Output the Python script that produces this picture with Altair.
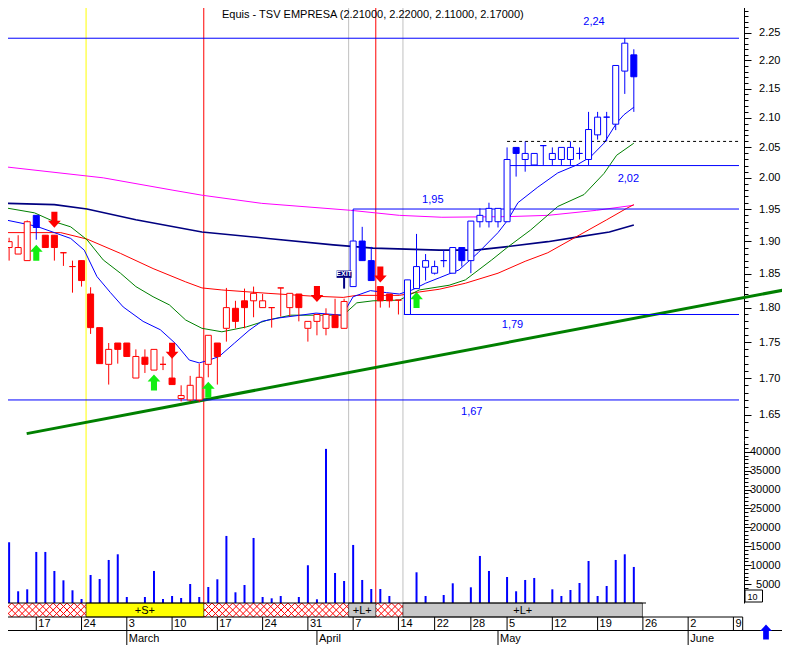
import altair as alt
import numpy as np
import pandas as pd

# ---------------- values ----------------
# trading-day number, 0 = Mon 17 Feb 2003 (holidays skipped)
DAY = list(range(-3, 67))
OPEN = [1.890, 1.880, 1.870, 1.940, 1.909, 1.909, 1.882, 1.861, 1.870, 1.820,
        1.771, 1.719, 1.749, 1.749, 1.700, 1.729, 1.711, 1.719, 1.700, 1.672,
        1.670, 1.670, 1.719, 1.749, 1.770, 1.799, 1.810, 1.810, 1.800, 1.800,
        1.829, 1.800, 1.820, 1.770, 1.780, 1.770, 1.789, 1.770, 1.831, 1.900,
        1.870, 1.831, 1.820, 1.811, 1.790, 1.828, 1.860, 1.851, 1.870, 1.851,
        1.890, 1.870, 1.930, 1.930, 1.930, 1.930, 2.050, 2.030, 2.021, 2.053,
        2.030, 2.030, 2.030, 2.040, 2.030, 2.071, 2.101, 2.089, 2.181, 2.210]
HIGH = [1.905, 1.909, 1.932, 1.940, 1.909, 1.909, 1.882, 1.870, 1.870, 1.830,
        1.771, 1.749, 1.749, 1.749, 1.740, 1.740, 1.740, 1.730, 1.728, 1.690,
        1.703, 1.720, 1.760, 1.749, 1.829, 1.810, 1.828, 1.831, 1.820, 1.800,
        1.829, 1.821, 1.820, 1.780, 1.790, 1.799, 1.813, 1.813, 1.950, 1.922,
        1.891, 1.831, 1.820, 1.811, 1.841, 1.911, 1.880, 1.870, 1.886, 1.890,
        1.890, 1.931, 1.951, 1.960, 1.951, 2.050, 2.050, 2.060, 2.040, 2.053,
        2.050, 2.050, 2.060, 2.050, 2.110, 2.110, 2.110, 2.191, 2.240, 2.220]
LOW = [1.870, 1.880, 1.870, 1.902, 1.890, 1.870, 1.862, 1.822, 1.831, 1.762,
       1.720, 1.691, 1.720, 1.730, 1.700, 1.707, 1.711, 1.711, 1.691, 1.668,
       1.668, 1.667, 1.701, 1.691, 1.751, 1.770, 1.770, 1.786, 1.800, 1.771,
       1.787, 1.787, 1.780, 1.751, 1.760, 1.760, 1.771, 1.770, 1.831, 1.870,
       1.840, 1.800, 1.800, 1.790, 1.790, 1.828, 1.840, 1.849, 1.860, 1.851,
       1.861, 1.851, 1.921, 1.921, 1.921, 1.930, 2.002, 2.010, 2.021, 2.021,
       2.021, 2.021, 2.021, 2.030, 2.021, 2.063, 2.060, 2.079, 2.141, 2.110]
CLOSE = [1.899, 1.890, 1.930, 1.921, 1.890, 1.890, 1.882, 1.861, 1.840, 1.771,
         1.720, 1.740, 1.740, 1.730, 1.730, 1.719, 1.740, 1.719, 1.691, 1.676,
         1.690, 1.701, 1.760, 1.730, 1.800, 1.780, 1.800, 1.821, 1.810, 1.800,
         1.829, 1.821, 1.800, 1.780, 1.790, 1.790, 1.771, 1.809, 1.900, 1.870,
         1.840, 1.810, 1.810, 1.811, 1.841, 1.861, 1.870, 1.861, 1.870, 1.890,
         1.870, 1.931, 1.940, 1.951, 1.951, 2.030, 2.040, 2.040, 2.040, 2.053,
         2.040, 2.050, 2.050, 2.040, 2.080, 2.101, 2.101, 2.191, 2.231, 2.171]
VOLUME = [16060, 3100, 3620, 13500, 13500, 8470, 6000, 3360, 1060, 7410,
          6350, 11380, 12880, 1590, 0, 1590, 8470, 1060, 1850, 1320,
          5030, 1590, 4230, 6270, 17730, 2830, 4760, 17200, 1590, 1240,
          1850, 0, 1590, 9980, 980, 40750, 7940, 5820, 15350, 6090,
          3700, 3700, 1850, 0, 0, 8120, 1850, 0, 2120, 5210,
          0, 4150, 12440, 8470, 0, 6880, 3100, 6090, 6620, 0,
          3620, 1850, 3440, 5290, 11110, 1850, 4500, 11380, 12880, 9530]
BLUE_DAYS = [0, 35, 36, 37] + list(range(41, 67))

# moving averages (day, value)
MA_FAST_DAY = [-3.45, 0, 2, 3.8, 5.3, 6.7, 8.2, 9.6, 11.8, 13.7, 15.4, 16.9, 18, 19.1,
               20.2, 21.9, 23.5, 24.9, 26.8, 29.2, 30.9, 33.8, 35, 36.9, 38.7, 40.1,
               41.5, 43, 44.5, 46.7, 48.8, 51, 52.1, 53.2, 55.4, 57.6, 59.7, 61.2,
               62.7, 64.1, 64.9, 66]
MA_FAST = [1.933, 1.923, 1.913, 1.904, 1.886, 1.846, 1.822, 1.801, 1.780, 1.768,
           1.748, 1.725, 1.721, 1.725, 1.730, 1.749, 1.767, 1.780, 1.785, 1.789,
           1.792, 1.789, 1.816, 1.825, 1.822, 1.820, 1.826, 1.836, 1.844, 1.856,
           1.882, 1.913, 1.933, 1.960, 1.985, 2.008, 2.021, 2.034, 2.057, 2.091,
           2.105, 2.118]
MA_GREEN_DAY = [-3.45, -0.2, 2, 3.8, 5.6, 7.4, 9.3, 11, 12.9, 14.7, 16.5, 18.3, 20.5,
                23.2, 25.6, 28.1, 33.9, 35.4, 37.2, 40.1, 42.3, 45.6, 47.4, 50.3,
                52.1, 54.6, 57.6, 60.5, 62.7, 64.1, 66]
MA_GREEN = [1.952, 1.944, 1.930, 1.922, 1.902, 1.871, 1.851, 1.831, 1.816, 1.804,
            1.782, 1.770, 1.765, 1.772, 1.782, 1.789, 1.789, 1.807, 1.810, 1.811,
            1.826, 1.833, 1.841, 1.871, 1.891, 1.917, 1.954, 1.973, 2.007, 2.037,
            2.057]
MA_RED_DAY = [-3.45, 2.7, 5.6, 9.3, 12.9, 16.5, 18.3, 20.5, 25.6, 30.3, 33.9, 35.4,
              40.1, 42.3, 44.5, 47.4, 51, 54, 56.5, 59.7, 63, 65.2, 66]
MA_RED = [1.913, 1.913, 1.903, 1.881, 1.858, 1.838, 1.829, 1.826, 1.821, 1.817,
          1.815, 1.818, 1.818, 1.823, 1.827, 1.836, 1.851, 1.869, 1.882, 1.907,
          1.933, 1.951, 1.957]
MA_NAVY_DAY = [-3.45, 2, 5.6, 11, 18.3, 25.6, 32.8, 37.2, 44.5, 48.5, 51.8, 56.5,
               59.7, 63.3, 66]
MA_NAVY = [1.959, 1.957, 1.950, 1.933, 1.914, 1.904, 1.894, 1.889, 1.886, 1.886,
           1.891, 1.899, 1.906, 1.914, 1.925]
MA_PINK_DAY = [-3.45, 7.4, 15.1, 18.3, 24.9, 34.7, 40.1, 44.8, 52.1, 56.5, 61.9, 66]
MA_PINK = [2.018, 2.000, 1.980, 1.972, 1.959, 1.948, 1.940, 1.937, 1.938, 1.940,
           1.948, 1.956]

TREND_DAY = [-1.06, 82.6]
TREND_PRICE = [1.625, 1.826]

LEVEL_PRICE = [2.24, 2.02, 1.95, 1.79, 1.67]
LEVEL_FROM = [-3.454, 52, 35, 40.6, -3.454]
LEVEL_LABEL = ["2,24", "2,02", "1,95", "1,79", "1,67"]
LEVEL_LABEL_DAY = [61.6, 65.4, 43.8, 52.6, 48.1]
LEVEL_LABEL_DY = [-16, 13, -9, 11, 12]
DOTTED_PRICE = 2.06
DOTTED_FROM = 52

UP_DAY = [0, 13, 19, 42]
UP_PRICE = [1.882, 1.694, 1.684, 1.811]
DOWN_DAY = [2, 15, 31, 38]
DOWN_PRICE = [1.933, 1.738, 1.820, 1.849]

VLINE_DAY = [5.5, 18.5, 34.5, 37.5, 40.5]
VLINE_COLOR = ["#FFFF00", "#FF0000", "#C0C0C0", "#FF0000", "#C0C0C0"]

BAND_START = [5.5, 34.5, 40.5]
BAND_END = [18.5, 37.5, 66.95]
BAND_TEXT = ["+S+", "+L+", "+L+"]
BAND_COLOR = ["#FFFF00", "#C8C8C8", "#C8C8C8"]

STRIP_START = [-3.454, 44.27]
STRIP_END = [44.27, 77.617]
STRIP_COLOR = ["#008000", "#0000FF"]

TICK_DAY = [0, 5, 10, 15, 20, 25, 30, 35, 40, 44, 48, 52, 57, 62, 67, 72, 77]
TICK_LABEL = ["17", "24", "3", "10", "17", "24", "31", "7", "14", "22", "28",
              "5", "12", "19", "26", "2", "9"]
MONTH_DAY = [10, 31, 51, 72]
MONTH_LABEL = ["March", "April", "May", "June"]

TITLE = "Equis - TSV EMPRESA (2.21000, 2.22000, 2.11000, 2.17000)"

# ---------------- chart ----------------
FONT = "Liberation Sans"
X_LEFT, X_RIGHT = -3.454, 77.617
xs = alt.Scale(domain=[X_LEFT, X_RIGHT], nice=False, zero=False)
ps = alt.Scale(type="log", domain=[1.6166, 2.3106], range=[440, 0], nice=False)
vs = alt.Scale(domain=[0, 43100], range=[603, 440], nice=False, zero=False)

PAXIS = alt.Axis(orient="right", values=[round(1.65 + 0.05 * k, 2) for k in range(13)],
                 format=".2f", tickSize=7, labelPadding=29, labelAlign="right",
                 labelBaseline="middle", labelFontSize=11, labelFont=FONT,
                 labelColor="black", tickColor="black", domainColor="black",
                 grid=False, labelOverlap=False, labelFlush=False)
PMINOR = alt.Axis(orient="right", values=[round(1.62 + 0.01 * k, 2) for k in range(69)],
                  labels=False, domain=False, tickSize=4, tickColor="black", grid=False)
VAXIS = alt.Axis(orient="right", values=[5000 * k for k in range(1, 9)], format="d",
                 tickSize=7, labelPadding=29, labelAlign="right", labelBaseline="middle",
                 labelFontSize=11, labelFont=FONT, labelColor="black",
                 tickColor="black", domainColor="black", grid=False,
                 labelOverlap=False, labelFlush=False)
VMINOR = alt.Axis(orient="right", values=[1000 * k for k in range(1, 43)],
                  labels=False, domain=False, tickSize=4, tickColor="black", grid=False)


def X(f):
    return alt.X(f"{f}:Q", scale=xs, axis=None, title=None)


def PY(f):
    return alt.Y(f"{f}:Q", scale=ps, axis=PAXIS, title=None)


df = pd.DataFrame(dict(day=DAY, open=OPEN, high=HIGH, low=LOW, close=CLOSE, volume=VOLUME))
df["color"] = np.where(df["day"].isin(BLUE_DAYS), "#0000FF", "#FF0000")
df["fill"] = np.where(df["close"] < df["open"], df["color"], "#FFFFFF")

# vertical marker lines (behind everything)
vl = pd.DataFrame(dict(day=VLINE_DAY, color=VLINE_COLOR))
vlines = alt.Chart(vl).mark_rule(strokeWidth=1).encode(
    x=X("day"), y=alt.value(4), y2=alt.value(603), color=alt.Color("color:N", scale=None))


def ma_layer(days, vals, color, width=1.0):
    d = pd.DataFrame(dict(day=days, v=vals))
    return alt.Chart(d).mark_line(color=color, strokeWidth=width).encode(x=X("day"), y=PY("v"))


mas = [ma_layer(MA_PINK_DAY, MA_PINK, "#FF00FF"),
       ma_layer(MA_NAVY_DAY, MA_NAVY, "#000080", 1.6),
       ma_layer(MA_RED_DAY, MA_RED, "#FF0000"),
       ma_layer(MA_GREEN_DAY, MA_GREEN, "#008000"),
       ma_layer(MA_FAST_DAY, MA_FAST, "#0000FF")]

trend = alt.Chart(pd.DataFrame(dict(day=TREND_DAY, v=TREND_PRICE))).mark_line(
    color="#008000", strokeWidth=3).encode(x=X("day"), y=PY("v"))

lv = pd.DataFrame(dict(p=LEVEL_PRICE, start=LEVEL_FROM, label=LEVEL_LABEL,
                       lday=LEVEL_LABEL_DAY, dy=LEVEL_LABEL_DY))
lv["end"] = X_RIGHT
levels = alt.Chart(lv).mark_rule(color="#0000FF", strokeWidth=1).encode(
    x=X("start"), x2="end", y=PY("p"))
level_text = [alt.Chart(lv.iloc[[k]]).mark_text(
    color="#0000FF", fontSize=11, font=FONT, dy=LEVEL_LABEL_DY[k], baseline="middle").encode(
    x=X("lday"), y=PY("p"), text="label:N") for k in range(len(LEVEL_PRICE))]
dotted = alt.Chart(pd.DataFrame(dict(p=[DOTTED_PRICE], start=[DOTTED_FROM], end=[X_RIGHT]))).mark_rule(
    color="black", strokeDash=[3, 3], strokeWidth=1).encode(x=X("start"), x2="end", y=PY("p"))

wicks = alt.Chart(df).mark_rule(strokeWidth=1).encode(
    x=X("day"), y=PY("low"), y2="high", color=alt.Color("color:N", scale=None))
bodies = alt.Chart(df).mark_bar(size=6, strokeWidth=1).encode(
    x=X("day"), y=PY("open"), y2="close",
    fill=alt.Fill("fill:N", scale=None), stroke=alt.Stroke("color:N", scale=None))

UP_PATH = "M0,-1L0.8,-0.12L0.38,-0.12L0.38,1L-0.38,1L-0.38,-0.12L-0.8,-0.12Z"
DOWN_PATH = "M0,1L0.8,0.12L0.38,0.12L0.38,-1L-0.38,-1L-0.38,0.12L-0.8,0.12Z"
ups = alt.Chart(pd.DataFrame(dict(day=UP_DAY, p=UP_PRICE))).mark_point(
    shape=UP_PATH, size=256, filled=True, color="#11EE11", opacity=1, strokeWidth=0).encode(
    x=X("day"), y=PY("p"))
downs = alt.Chart(pd.DataFrame(dict(day=DOWN_DAY, p=DOWN_PRICE))).mark_point(
    shape=DOWN_PATH, size=256, filled=True, color="#FF0000", opacity=1, strokeWidth=0).encode(
    x=X("day"), y=PY("p"))

sign = pd.DataFrame(dict(day=[34], post_lo=[1.828], lo=[1.844], hi=[1.855], mid=[1.8495], t=["EXIT"]))
sign_post = alt.Chart(sign).mark_rule(color="#000080", strokeWidth=2).encode(
    x=X("day"), y=PY("post_lo"), y2="lo")
sign_box = alt.Chart(sign).mark_bar(size=15, color="#000080").encode(x=X("day"), y=PY("lo"), y2="hi")
sign_txt = alt.Chart(sign).mark_text(color="white", fontSize=7, font=FONT, fontWeight="bold").encode(
    x=X("day"), y=PY("mid"), text="t:N")

price = alt.layer(*mas, trend, levels, dotted, *level_text, wicks, bodies, ups, downs,
                  sign_post, sign_box, sign_txt)

volume = alt.Chart(df).mark_rule(strokeWidth=2, color="#0000FF").encode(
    x=X("day"), y=alt.Y("volume:Q", scale=vs, axis=VAXIS, title=None), y2=alt.datum(0))

pminor = alt.Chart(pd.DataFrame(dict(p=[1.8]))).mark_point(opacity=0).encode(
    y=alt.Y("p:Q", scale=ps, axis=PMINOR, title=None))
vminor = alt.Chart(pd.DataFrame(dict(v=[1000]))).mark_point(opacity=0).encode(
    y=alt.Y("v:Q", scale=vs, axis=VMINOR, title=None))

# state strip at the very top
st = pd.DataFrame(dict(s=STRIP_START, e=STRIP_END, c=STRIP_COLOR))
strip = alt.Chart(st).mark_rect().encode(
    x=X("s"), x2="e", y=alt.value(0.5), y2=alt.value(3.5), color=alt.Color("c:N", scale=None))

# signal band: red cross hatching, then coloured segments on top
step = 7 / 9.177
hx = np.arange(-5.0, 41.0, step)
hatch = pd.DataFrame(dict(a=hx, b=hx + 14 / 9.177))
hatch1 = alt.Chart(hatch).mark_rule(color="#FF0000", strokeWidth=1, clip=True).encode(
    x=X("a"), x2="b", y=alt.value(617), y2=alt.value(603))
hatch2 = alt.Chart(hatch).mark_rule(color="#FF0000", strokeWidth=1, clip=True).encode(
    x=X("a"), x2="b", y=alt.value(603), y2=alt.value(617))
bd = pd.DataFrame(dict(s=BAND_START, e=BAND_END, t=BAND_TEXT, c=BAND_COLOR))
bd["m"] = (bd["s"] + bd["e"]) / 2
band = alt.Chart(bd).mark_rect(stroke="black", strokeWidth=0.6).encode(
    x=X("s"), x2="e", y=alt.value(603), y2=alt.value(617), color=alt.Color("c:N", scale=None))
band_txt = alt.Chart(bd).mark_text(fontSize=11, font=FONT, color="black", baseline="middle").encode(
    x=X("m"), y=alt.value(610.5), text="t:N")
frame = pd.DataFrame(dict(y=[603, 617, 630.5], x0=[0, 0, 0], x1=[646, 742.7, 790]))
frame_lines = alt.Chart(frame).mark_rule(color="black", strokeWidth=1).encode(
    x=alt.X("x0:Q", scale=None, axis=None), x2="x1", y=alt.Y("y:Q", scale=None, axis=None))

# date axis
tk = pd.DataFrame(dict(day=TICK_DAY, t=TICK_LABEL))
tick_lines = alt.Chart(tk).mark_rule(color="black").encode(x=X("day"), y=alt.value(617), y2=alt.value(630))
tick_txt = alt.Chart(tk).mark_text(align="left", dx=2, baseline="middle", fontSize=11, font=FONT,
                                   color="black", clip=True).encode(
    x=X("day"), y=alt.value(624), text="t:N")
mo = pd.DataFrame(dict(day=MONTH_DAY, t=MONTH_LABEL))
month_lines = alt.Chart(mo).mark_rule(color="black").encode(x=X("day"), y=alt.value(630), y2=alt.value(645))
month_txt = alt.Chart(mo).mark_text(align="left", dx=2, baseline="middle", fontSize=11, font=FONT,
                                    color="black").encode(x=X("day"), y=alt.value(638.5), text="t:N")
row_end = alt.Chart(pd.DataFrame(dict(a=[0]))).mark_rule(color="black").encode(
    x=alt.value(742.7), y=alt.value(617), y2=alt.value(630))

title = alt.Chart(pd.DataFrame(dict(t=[TITLE]))).mark_text(
    align="left", baseline="middle", fontSize=11, font=FONT, color="black").encode(
    x=alt.value(222), y=alt.value(14.5), text="t:N")

# little widgets bottom right
box = alt.Chart(pd.DataFrame(dict(a=[0]))).mark_rect(fill="white", stroke="black", strokeWidth=1).encode(
    x=alt.value(745), x2=alt.value(762.5), y=alt.value(590), y2=alt.value(602))
box_txt = alt.Chart(pd.DataFrame(dict(t=["10"]))).mark_text(
    align="left", baseline="middle", fontSize=9, font=FONT, color="black").encode(
    x=alt.value(747.5), y=alt.value(596.5), text="t:N")
nav = alt.Chart(pd.DataFrame(dict(a=[0]))).mark_point(
    shape=UP_PATH, size=225, filled=True, color="#0000FF", opacity=1, strokeWidth=0).encode(
    x=alt.value(766), y=alt.value(632))
top_line = alt.Chart(pd.DataFrame(dict(a=[0]))).mark_rule(color="black", strokeWidth=1.5).encode(
    x=alt.value(744), x2=alt.value(782), y=alt.value(1))

chart = alt.layer(
    vlines, strip, price, volume, pminor, vminor,
    hatch1, hatch2, band, band_txt, frame_lines,
    tick_lines, tick_txt, month_lines, month_txt, row_end,
    title, box, box_txt, nav, top_line,
).resolve_scale(y="independent").properties(
    width=744, height=645,
    autosize=alt.AutoSizeParams(type="none"),
    padding={"left": -8, "top": -8, "right": 38, "bottom": 0},
    background="white",
).configure_view(strokeWidth=0)

chart.save("out.html", embed_options={"renderer": "svg", "actions": False})
